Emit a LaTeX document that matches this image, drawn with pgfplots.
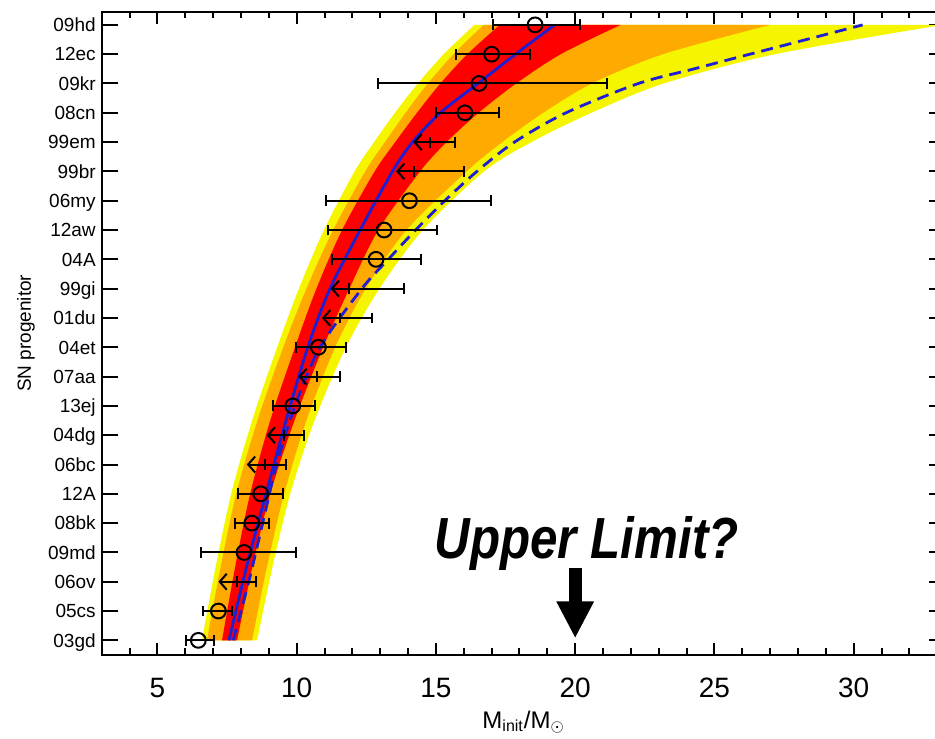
\documentclass[border=0pt]{standalone}
\usepackage{fontspec}
\setmainfont{Liberation Sans}
\usepackage{graphicx}
\usepackage{pgfplots}
\pgfplotsset{compat=1.18}
\usepgfplotslibrary{fillbetween}
\usetikzlibrary{arrows.meta}

\definecolor{bandyellow}{RGB}{245,245,0}
\definecolor{bandorange}{RGB}{255,170,0}
\definecolor{bandred}{RGB}{255,0,0}
\definecolor{lineblue}{RGB}{30,30,210}

\begin{document}
\begin{tikzpicture}
\begin{axis}[
    name=ax,
    scale only axis,
    width=421.95pt, height=321.65pt,
    xmin=3, xmax=33.3,
    ymin=-0.5, ymax=21.45,
    xtick={5,10,...,30},
    minor xtick={3,...,33},
    ytick={0,...,21},
    yticklabels={03gd,05cs,06ov,09md,08bk,12A,06bc,04dg,13ej,07aa,04et,01du,99gi,04A,12aw,06my,99br,99em,08cn,09kr,12ec,09hd},
    tick align=inside,
    major tick length=6pt,
    minor tick length=3.3pt,
    ytick style={/pgfplots/major tick length=8.3pt},
    every tick/.style={black, line width=1pt},
    axis line style={line width=1pt},
    /pgf/number format/assume math mode=true,
    xticklabel style={font=\fontsize{14}{14}\selectfont, anchor=base, yshift=-21pt},
    yticklabel style={font=\fontsize{9.5}{9.5}\selectfont, anchor=base east, inner sep=0pt, xshift=-2.8pt, yshift=-3.4pt},
    xlabel={M\textsubscript{init}/M\textsubscript{$\odot$}},
    xlabel style={font=\fontsize{12}{12}\selectfont, at={(axis description cs:0.5,-0.1135)}, anchor=base},
    ylabel={SN progenitor},
    ylabel style={font=\fontsize{9.5}{9.5}\selectfont, at={(axis description cs:-0.0897,0.5)}, anchor=center},
]

% band edges (mass at each progenitor row)
\addplot[draw=none, smooth, name path=yelL] coordinates {
    (6.60,0) (7.09,2.5) (7.65,5) (8.40,7.5) (9.30,10) (10.08,12) (10.98,14)
    (12.08,16) (12.78,17) (13.53,18) (14.35,19) (15.28,20) (16.38,21)
};
\addplot[draw=none, smooth, name path=yelR] coordinates {
    (8.58,0) (9.13,2.5) (9.77,5) (10.64,7.5) (11.77,10) (12.97,12) (14.53,14)
    (16.73,16) (18.43,17) (20.58,18) (23.18,19) (27.18,20) (33.18,21)
};
\addplot[draw=none, smooth, name path=orL] coordinates {
    (6.78,0) (7.27,2.5) (7.83,5) (8.59,7.5) (9.52,10) (10.35,12) (11.31,14)
    (12.46,16) (13.17,17) (13.91,18) (14.71,19) (15.63,20) (16.71,21)
};
\addplot[draw=none, smooth, name path=orR] coordinates {
    (8.40,0) (8.93,2.5) (9.55,5) (10.35,7.5) (11.38,10) (12.48,12) (13.94,14)
    (16.10,16) (17.38,17) (18.85,18) (20.60,19) (23.15,20) (27.00,21)
};
\addplot[draw=none, smooth, name path=redL] coordinates {
    (7.32,0) (7.79,2.5) (8.33,5) (9.05,7.5) (9.94,10) (10.71,12) (11.63,14)
    (12.80,16) (13.54,17) (14.32,18) (15.16,19) (16.13,20) (17.29,21)
};
\addplot[draw=none, smooth, name path=redR] coordinates {
    (7.86,0) (8.41,2.5) (9.05,5) (9.92,7.5) (10.95,10) (11.89,12) (12.93,14)
    (14.43,16) (15.38,17) (16.53,18) (17.88,19) (19.48,20) (21.63,21)
};
\addplot[bandyellow] fill between[of=yelL and yelR];
\addplot[bandorange] fill between[of=orL and orR];
\addplot[bandred] fill between[of=redL and redR];

% solid blue relation
\addplot[lineblue, line width=1.4pt, smooth] coordinates {
    (7.57,0) (8.20,2.5) (8.90,5) (9.62,7.5) (10.40,10) (11.20,12) (12.28,14)
    (13.44,16) (14.16,17) (15.16,18) (16.51,19) (17.86,20) (19.26,21)
};
% dashed blue relation
\addplot[lineblue, line width=1.4pt, dash pattern=on 6pt off 3.5pt, smooth] coordinates {
    (7.72,0) (8.28,2) (8.78,4) (9.28,6) (9.94,8) (10.84,10) (12.34,12)
    (13.29,13) (14.27,14) (15.32,15) (16.47,16) (17.82,17) (19.67,18)
    (22.27,19) (24.27,19.5) (26.27,20) (28.30,20.5) (30.32,21)
};

% upper limits: arrow to the left
\addplot[black, line width=1pt, -{Straight Barb[length=3.5pt,width=8pt]},
    quiver={u=\thisrow{u}, v=0}] table {
    x     y   u
    14.79 17 -0.60
    14.22 16 -0.65
    11.89 12 -0.67
    11.56 11 -0.65
    10.72 9  -0.66
    9.55  7  -0.63
    8.86  6  -0.65
    7.85  2  -0.66
};
% upper limits: tick and upper error
\addplot[black, only marks, mark=|, mark size=2.7pt, mark options={line width=1pt},
    error bars/.cd, x dir=plus, x explicit, error mark=|,
    error bar style={line width=1pt},
    error mark options={line width=1pt, mark size=2.7pt}] coordinates {
    (14.79,17) += (0.90,0)
    (14.22,16) += (1.80,0)
    (11.89,12) += (1.98,0)
    (11.56,11) += (1.13,0)
    (10.72,9)  += (0.84,0)
    (9.55,7)   += (0.71,0)
    (8.86,6)   += (0.76,0)
    (7.85,2)   += (0.69,0)
};
% detections
\addplot[black, only marks, mark=o, mark size=3.7pt, mark options={line width=1pt},
    error bars/.cd, x dir=both, x explicit, error mark=|,
    error bar style={line width=1pt},
    error mark options={line width=1pt, mark size=2.7pt}] coordinates {
    (18.56,21) -= (1.52,0) += (1.61,0)
    (17.00,20) -= (1.28,0) += (1.38,0)
    (16.55,19) -= (3.64,0) += (4.60,0)
    (16.04,18) -= (1.05,0) += (1.24,0)
    (14.05,15) -= (3.01,0) += (2.93,0)
    (13.14,14) -= (2.00,0) += (1.91,0)
    (12.85,13) -= (1.57,0) += (1.60,0)
    (10.78,10) -= (0.80,0) += (0.99,0)
    (9.86,8)   -= (0.70,0) += (0.80,0)
    (8.71,5)   -= (0.81,0) += (0.81,0)
    (8.39,4)   -= (0.60,0) += (0.62,0)
    (8.11,3)   -= (1.56,0) += (1.87,0)
    (7.19,1)   -= (0.54,0) += (0.50,0)
    (6.47,0)   -= (0.45,0) += (0.57,0)
};

\node[anchor=base, font=\fontsize{29}{29}\selectfont\bfseries\itshape]
    at (axis cs:20.41,2.80) {\scalebox{0.85}[1]{Upper Limit?}};
\draw[black, line width=6.5pt, -{Triangle[length=18.5pt,width=17.5pt]}]
    (axis cs:20,2.46) -- (axis cs:20,0.07);
\end{axis}
\pgfresetboundingbox
\path[use as bounding box] (ax.south west) ++(-50.85pt,-41.5pt) rectangle ++(467.5pt,369pt);
\end{tikzpicture}
\end{document}
